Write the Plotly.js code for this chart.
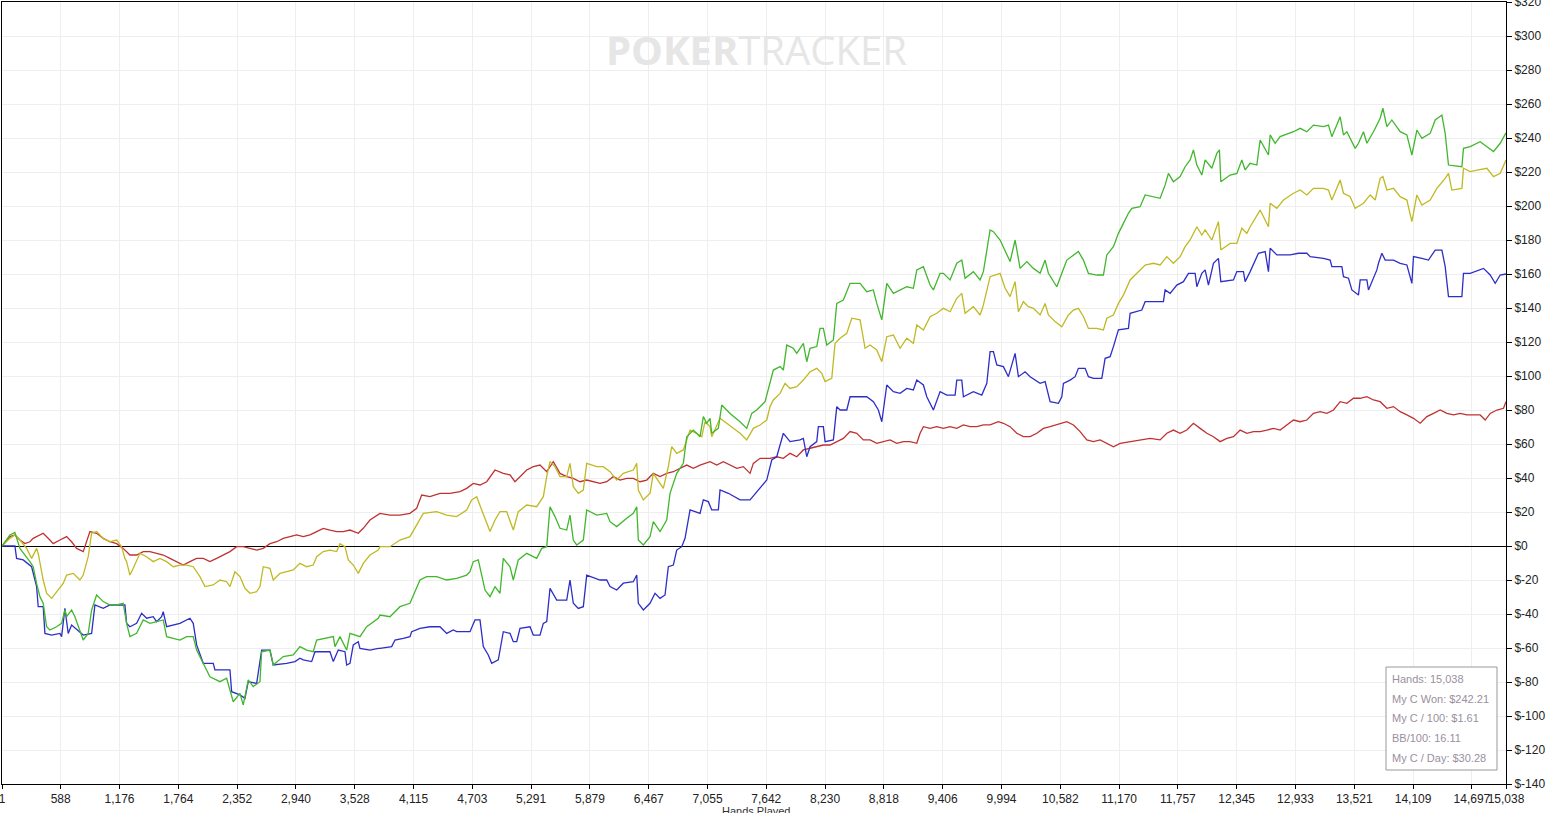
<!DOCTYPE html>
<html>
<head>
<meta charset="utf-8">
<script src="https://cdn.plot.ly/plotly-3.0.1.min.js"></script>
<style>html,body{margin:0;padding:0;background:#fff;}#chart{width:1561px;height:813px;}</style>
</head>
<body>
<div id="chart"></div>
<script>
// [hands, dollars]
const netWon = [[1,0],[80,6.5],[130,8],[180,-1.4],[280,-9.2],[313,-12.2],[347,-22],[380,-29.8],[413,-33.7],[447,-47.5],[480,-49.4],[547,-47.5],[597,-45.5],[630,-37.6],[647,-41.6],[697,-37.6],[730,-41.6],[780,-49.4],[813,-55.3],[863,-51.4],[897,-37.6],[947,-28.8],[1013,-32.7],[1080,-34.7],[1147,-34.7],[1213,-33.7],[1247,-45.5],[1280,-53.3],[1347,-51.4],[1413,-43.5],[1480,-45.5],[1547,-44.5],[1613,-43.5],[1647,-53.3],[1713,-54.3],[1780,-55.3],[1847,-53.3],[1913,-53.3],[1947,-61.2],[2013,-69],[2080,-76.9],[2180,-79.8],[2247,-77.8],[2280,-84.7],[2313,-91.6],[2380,-86.7],[2413,-93.5],[2463,-78.8],[2513,-82.7],[2580,-79.8],[2597,-62.2],[2680,-61.2],[2713,-70],[2813,-65],[2913,-64],[2980,-59.2],[3047,-61.2],[3113,-62.2],[3147,-55.3],[3313,-53.3],[3330,-59.2],[3380,-53.3],[3447,-61.2],[3480,-51.4],[3580,-53.3],[3647,-47.5],[3763,-42.5],
[3780,-40.6],[3880,-41.6],[3980,-35.7],[4080,-33.7],[4180,-20],[4247,-18],[4347,-18],[4447,-20],[4547,-19],[4647,-17.1],[4680,-15.1],[4713,-9.2],[4763,-8.2],[4797,-18],[4830,-25.9],[4880,-29.8],[4930,-23.9],[4980,-27.8],[5013,-7.3],[5080,-12.2],[5113,-20],[5163,-8.2],[5247,-4.3],[5347,-7.3],[5397,-1.4],[5447,-0.4],[5480,23.1],[5530,17.3],[5580,10.4],[5647,9.4],[5680,18.2],[5713,3.5],[5747,0.6],[5813,3.5],[5847,21.2],[5947,18.2],[6047,19.2],[6080,14.3],[6147,11.4],[6247,16.3],[6313,19.2],[6347,23.1],[6363,3.5],[6413,0.6],[6480,5.5],[6513,14.3],[6580,8.5],[6647,15.3],[6680,31],[6747,42.7],[6813,48.6],
[6847,64.3],[6913,68.2],[6980,64.3],[7013,76.1],[7047,72.2],[7080,75.1],[7097,66.3],[7163,69.2],[7197,82.9],[7280,78],[7380,73.1],[7447,69.2],[7497,78],[7547,80],[7630,84.9],[7663,91.8],[7713,103.5],[7780,105.5],[7813,103.5],[7847,118.2],[7913,116.3],[7947,113.3],[8013,119.2],[8047,108.4],[8080,116.3],[8147,117.3],[8180,128],[8213,128],[8247,118.2],[8313,121.2],[8347,142.7],[8413,144.7],[8480,154.5],[8580,154.5],[8647,149.6],[8713,150.6],[8747,142.7],[8797,133],[8847,154.5],[8913,148.6],[8980,150.6],[9047,152.5],[9113,151.6],[9147,162.4],[9213,164.3],[9280,153.5],[9313,150.6],[9380,160.4],[9413,160.4],[9480,156.5],[9547,166.3],[9597,168.2],[9630,157.5],[9713,161.4],[9780,156.5],[9813,161.4],[9880,185.9],[9913,184.9],[9980,180],[10030,174.1],[10080,167.3],[10130,180],[10180,163.3],[10247,167.3],[10313,163.3],[10380,160.4],
[10430,168.2],[10463,160.4],[10547,152.5],[10597,160.4],[10647,168.2],[10763,173.2],[10813,168.2],[10863,160.4],[10947,159.4],[11013,159.4],[11047,171.2],[11113,176.1],[11163,183.9],[11213,189.8],[11263,195.7],[11297,198.6],[11380,199.6],[11430,206.5],[11513,205.5],[11580,204.5],[11630,212.4],[11663,219.2],[11713,214.3],[11780,217.3],[11830,223.1],[11880,227.1],[11913,233],[11947,224.1],[11997,218.2],[12030,227.1],[12097,222.2],[12147,231],[12173,233],[12187,214.3],[12280,218.2],[12347,219.2],[12397,227.1],[12430,221.2],[12480,225.1],[12547,224.1],[12580,238.8],[12663,230],[12680,241.8],[12730,236.9],[12780,240.8],[12913,243.7],[12980,245.7],[13047,243.7],[13113,247.6],[13213,246.7],[13263,247.6],[13297,240.8],[13380,252.5],[13413,241.8],[13447,243.7],[13530,233.9],[13563,236.9],[13613,243.7],[13647,236.9],[13713,243.7],[13780,251.6],[13807,257.5],[13847,246.7],[13897,250.6],[13980,243.7],[14047,241.8],[14097,230],[14147,244.7],[14197,239.8],[14280,242.7],[14330,250.6],[14397,253.5],[14430,242.7],[14463,224.1],[14597,223.1],[14613,233.9],[14680,234.9],[14780,237.8],[14847,234.9],[14913,232],[14980,236.9],[15038,243]];

const allInEV = [[1,0],[80,4.5],[130,6.5],[180,3.5],[247,-1.4],[297,-7.3],[347,-1.4],[363,-4.3],[413,-20],[447,-27.8],[497,-30.8],[563,-25.9],[613,-22],[647,-17.1],[713,-16.1],[780,-20],[813,-17.1],[863,-6.3],[897,7.5],[947,8.5],[1013,4.5],[1080,2.5],[1147,3.5],[1197,-0.4],[1230,-7.3],[1247,-9.2],[1280,-17.1],[1313,-13.1],[1380,-4.3],[1447,-6.3],[1513,-9.2],[1580,-7.3],[1647,-9.2],[1713,-12.2],[1780,-11.2],[1847,-11.2],[1913,-12.2],[1980,-18],[2030,-23.9],[2113,-22.9],[2180,-20],[2247,-21],[2280,-23.9],[2330,-15.1],[2380,-18],[2430,-24.9],[2480,-27.8],[2547,-26.9],[2580,-23.9],[2613,-12.2],[2680,-13.1],[2713,-20],[2780,-16.1],[2847,-15.1],[2913,-14.1],[2980,-10.2],[3047,-12.2],[3113,-11.2],[3147,-6.3],[3213,-3.3],[3280,-2.4],[3347,-3.3],[3380,1.4],[3430,-0.4],[3463,-8.2],[3513,-11.2],[3563,-16.1],[3613,-10.2],[3680,-5.3],[3763,-2.4],
[3780,-0.4],[3880,-0.4],[3980,3.5],[4080,5.5],[4180,15.3],[4213,19.2],[4347,20.2],[4447,18.2],[4547,17.3],[4647,21.2],[4697,27.1],[4747,29],[4797,21.2],[4847,13.3],[4880,8.5],[4930,15.3],[4980,20.2],[5047,20.2],[5113,9.4],[5163,20.2],[5247,24.1],[5347,23.1],[5413,29],[5447,40.8],[5480,49.6],[5530,46.7],[5580,40.8],[5647,40.8],[5680,48.6],[5713,34.9],[5763,31],[5813,32.9],[5847,48.6],[5947,46.7],[6013,46.7],[6080,43.7],[6147,38.8],[6213,42.7],[6313,44.7],[6347,48.6],[6363,32.9],[6413,27.1],[6480,31],[6513,42.7],[6580,36.8],[6613,33.9],[6663,46.7],[6697,58.4],[6747,54.5],
[6813,56.5],[6880,68.2],[6947,66.3],[6997,64.3],[7030,73.1],[7080,70.2],[7097,64.3],[7180,75.1],[7247,72.2],[7313,69.2],[7380,66.3],[7447,62.4],[7513,69.2],[7580,71.2],[7647,74.1],[7680,82],[7713,85.9],[7780,89.8],[7830,95.7],[7880,92.7],[7947,93.7],[8013,97.6],[8080,102.5],[8147,104.5],[8197,101.6],[8230,96.7],[8297,98.6],[8330,119.2],[8380,122.2],[8447,125.1],[8497,134],[8580,133],[8630,116.3],[8680,118.2],[8747,115.3],[8797,108.4],[8847,123.1],[8913,124.1],[8980,116.3],[9047,122.2],[9113,119.2],[9147,130],[9213,127.1],[9280,134.9],[9347,136.9],[9413,139.8],[9480,137.8],[9547,145.7],[9597,148.6],[9630,136.9],[9713,140.8],[9780,135.9],[9813,141.8],[9880,158.4],[9980,160.4],[10030,151.6],[10080,146.7],[10130,155.5],[10163,137.8],[10213,143.7],[10263,140.8],[10313,139.8],[10380,135.9],
[10430,142.7],[10463,135.9],[10530,132],[10597,129],[10663,135.9],[10713,138.8],[10763,139.8],[10813,135],[10863,128],[10947,128],[11013,127.1],[11047,134],[11113,135.9],[11163,142.7],[11213,147.6],[11280,156.5],[11347,160.4],[11430,165.3],[11513,166.3],[11580,165.3],[11647,170.2],[11713,166.3],[11780,170.2],[11830,176.1],[11880,180],[11947,187.8],[11997,182.9],[12030,185.9],[12097,180],[12163,190.8],[12187,174.1],[12280,178],[12347,178],[12397,186.9],[12447,183.9],[12480,187.8],[12580,197.6],[12663,187.8],[12680,201.6],[12747,198.6],[12813,203.5],[12913,207.5],[12980,209.4],[13047,206.5],[13113,210.4],[13213,210.4],[13263,209.4],[13297,203.5],[13380,215.3],[13413,207.5],[13480,205.5],[13530,198.6],[13613,201.6],[13680,206.5],[13730,203.5],[13780,216.3],[13807,217.3],[13847,209.4],[13913,210.4],[13980,205.5],[14047,203.5],[14097,190.8],[14147,206.5],[14197,200.6],[14280,203.5],[14347,210.4],[14430,216.3],[14463,219.2],[14497,209.4],[14597,210.4],[14613,222.2],[14680,220.2],[14763,221.2],[14847,222.2],[14913,217.3],[14980,219.2],[15038,227]];

const showdownWon = [[1,0],[130,0],[147,-7.3],[213,-8.2],[297,-12.2],[347,-23.9],[363,-35.7],[413,-35.7],[430,-51.4],[497,-52.4],[580,-51.4],[597,-53.3],[630,-36.7],[663,-51.4],[697,-46.5],[797,-51.4],[813,-52.4],[897,-51.4],[930,-34.7],[1013,-36.7],[1080,-34.7],[1147,-34.7],[1230,-34.7],[1247,-45.5],[1280,-47.5],[1347,-45.5],[1397,-39.6],[1447,-42.5],[1513,-41.6],[1547,-44.5],[1597,-41.6],[1613,-38.6],[1647,-47.5],[1780,-45.5],[1880,-42.5],[1913,-45.5],[1947,-58.2],[2013,-69],[2113,-69],[2130,-72.9],[2280,-72.9],[2297,-85.7],[2380,-87.6],[2430,-89.6],[2463,-79.8],[2547,-80.8],[2597,-61.2],[2680,-61.2],[2713,-70],[2847,-69],[2930,-68],[2980,-66],[3013,-67],[3097,-68],[3130,-62.2],[3280,-62.2],[3313,-68],[3363,-61.2],[3430,-62.2],[3447,-70],[3480,-69],[3513,-58.2],[3563,-56.3],[3580,-60.2],[3680,-61.2],[3763,-60.2],
[3780,-60.2],[3897,-59.2],[3930,-55.3],[4013,-54.3],[4080,-53.3],[4097,-50.4],[4180,-48.4],[4280,-47.5],[4380,-47.5],[4447,-51.4],[4513,-49.4],[4547,-50.4],[4680,-50.4],[4730,-43.5],[4780,-43.5],[4813,-59.2],[4863,-64.1],[4897,-69],[4963,-67],[5013,-50.4],[5080,-51.4],[5113,-56.3],[5147,-56.3],[5180,-48.4],[5280,-47.5],[5313,-52.4],[5380,-52.4],[5413,-45.5],[5447,-44.5],[5480,-24.9],[5547,-31.8],[5647,-31.8],[5680,-20],[5713,-33.7],[5763,-36.7],[5813,-35.7],[5847,-17.1],[5980,-20],[6047,-20],[6080,-23.9],[6147,-25.9],[6213,-21.9],[6313,-21],[6347,-17.1],[6363,-33.7],[6413,-37.6],[6480,-33.7],[6530,-27.8],[6580,-30.8],[6630,-28.8],[6663,-12.2],[6713,-11.2],[6747,-2.4],[6797,-0.4],[6830,4.5],[6880,21.2],[6980,19.2],[7013,27.1],[7063,26.1],[7097,21.2],[7163,21.2],[7180,33],[7263,31],[7380,27.1],[7480,27.1],
[7647,38.8],[7697,50.6],[7747,52.5],[7813,66.3],[7880,61.4],[7980,62.4],[8013,63.3],[8047,52.5],[8080,58.4],[8147,61.4],[8163,70.2],[8213,70.2],[8230,61.4],[8313,62.4],[8347,82],[8380,80],[8447,80],[8480,87.8],[8647,87.8],[8713,84.9],[8763,80],[8797,73.1],[8847,94.7],[8913,90.8],[8980,89.8],[9047,92.7],[9113,91.8],[9147,97.6],[9213,94.7],[9247,87.8],[9313,80],[9380,90.8],[9447,88.8],[9530,88.8],[9547,97.6],[9597,97.6],[9613,87.8],[9713,90.8],[9797,88.8],[9847,95.7],[9880,114.3],[9913,114.3],[9947,106.5],[10013,105.5],[10063,99.6],[10130,113.3],[10163,99.6],[10230,102.5],[10280,99.6],[10380,95.7],
[10430,96.7],[10463,89.8],[10480,84.9],[10563,83.9],[10597,87.8],[10613,95.7],[10680,97.6],[10730,99.6],[10763,104.5],[10830,104.5],[10863,99.6],[10913,98.6],[10997,98.6],[11030,110.4],[11080,111.4],[11113,117.3],[11163,127.1],[11263,128],[11280,136.9],[11397,138.8],[11430,143.7],[11613,143.7],[11630,150.6],[11680,148.6],[11747,153.5],[11813,155.5],[11863,160.4],[11930,160.4],[11947,152.5],[11997,160.4],[12030,162.4],[12063,153.5],[12113,166.3],[12163,169.2],[12187,155.5],[12313,156.5],[12347,161.4],[12413,161.4],[12430,155.5],[12480,161.4],[12563,172.2],[12630,173.2],[12663,161.4],[12680,175.1],[12747,171.2],[12880,171.2],[12963,172.2],[13047,172.2],[13080,170.2],[13213,169.2],[13280,168.2],[13297,164.3],[13397,164.3],[13413,158.4],[13463,157.5],[13497,150.6],[13563,147.6],[13580,156.5],[13647,156.5],[13663,150.6],[13713,157.5],[13747,162.4],[13763,166.3],[13797,172.2],[13830,168.2],[13913,168.2],[13980,166.3],[14047,165.3],[14097,154.5],[14113,170.2],[14197,169.2],[14263,168.2],[14330,174.1],[14397,174.1],[14430,164.3],[14463,146.7],[14597,146.7],[14613,160.4],[14680,160.4],[14813,163.3],[14880,159.4],[14930,154.5],[14980,159.4],[15038,160]];

const nonShowdownWon = [[1,0],[80,5.5],[130,6.5],[180,3.5],[230,1.4],[280,2.5],[313,4.5],[347,5.5],[413,7.5],[480,3.5],[513,1.4],[580,3.5],[647,5.5],[697,2.5],[747,-1.4],[813,-3.3],[880,8.5],[947,7.5],[1013,4.5],[1080,2.5],[1147,1.4],[1213,-1.4],[1280,-5.3],[1347,-5.3],[1413,-3.3],[1480,-3.3],[1547,-4.3],[1613,-5.3],[1680,-7.3],[1747,-9.2],[1813,-11.2],[1880,-9.2],[1947,-7.3],[2013,-7.3],[2080,-9.2],[2147,-7.3],[2213,-5.3],[2280,-3.3],[2347,-0.4],[2413,-0.4],[2480,-1.4],[2547,-2.4],[2613,-1.4],[2680,1.4],[2747,2.5],[2813,4.5],[2880,5.5],[2947,6.5],[3013,5.5],[3080,6.5],[3147,8.5],[3213,10.4],[3280,9.4],[3347,8.5],[3413,8.5],[3480,9.4],[3563,7.5],[3613,10.4],[3680,15.3],[3763,18.2],
[3780,19.2],[3880,18.2],[3980,18.2],[4080,19.2],[4147,22.2],[4197,30],[4280,29],[4380,31],[4480,31],[4580,32],[4647,33.9],[4713,36.8],[4780,35.9],[4847,37.8],[4930,44.7],[5013,42.7],[5080,41.8],[5130,37.8],[5180,40.8],[5247,44.7],[5313,46.7],[5380,47.6],[5447,43.7],[5513,49.6],[5580,42.7],[5647,40.8],[5713,39.8],[5780,37.8],[5847,38.8],[5913,37.8],[5980,36.8],[6047,37.8],[6113,40.8],[6180,38.8],[6247,39.8],[6313,39.8],[6380,37.8],[6447,38.8],[6513,42.7],[6580,40.8],[6647,42.7],[6713,43.7],[6780,45.7],[6847,47.6],[6913,45.7],[6980,47.6],[7080,49.6],[7147,47.6],[7213,49.6],[7280,47.6],[7347,45.7],[7413,46.7],[7480,42.7],
[7513,48.6],[7580,51.6],[7680,51.6],[7747,52.5],[7813,51.6],[7880,54.5],[7947,52.5],[8013,56.5],[8080,57.5],[8147,58.4],[8213,59.4],[8280,59.4],[8347,61.4],[8413,63.3],[8480,67.3],[8547,66.3],[8613,62.4],[8680,62.4],[8747,60.4],[8813,61.4],[8880,62.4],[8947,60.4],[9013,61.4],[9080,61.4],[9147,60.4],[9180,66.3],[9213,70.2],[9280,69.2],[9347,70.2],[9413,69.2],[9480,70.2],[9547,69.2],[9613,71.2],[9680,70.2],[9747,70.2],[9813,71.2],[9880,71.2],[9963,73.1],[10013,72.2],[10080,70.2],[10147,66.3],[10213,64.3],[10280,64.3],[10347,66.3],
[10413,69.2],[10480,70.2],[10547,71.2],[10647,73.1],[10713,71.2],[10780,67.3],[10847,62.4],[10913,61.4],[10980,62.4],[11047,60.4],[11113,58.4],[11180,60.4],[11280,61.4],[11380,62.4],[11480,63.3],[11580,62.4],[11647,66.3],[11713,68.2],[11780,66.3],[11847,68.2],[11913,72.2],[11980,69.2],[12047,66.3],[12113,64.3],[12180,61.4],[12247,63.3],[12313,64.3],[12380,68.2],[12447,66.3],[12513,67.3],[12580,67.3],[12647,68.2],[12713,69.2],[12780,68.2],[12847,71.2],[12913,74.1],[12980,73.1],[13047,74.1],[13113,78],[13180,79],[13247,78],[13313,80],[13380,84.9],[13447,83.9],[13513,86.9],[13580,86.9],[13647,87.8],[13713,85.9],[13780,84.9],[13847,81],[13913,82],[13980,79],[14047,77.1],[14113,75.1],[14180,72.2],[14247,76.1],[14313,78],[14380,80],[14447,78],[14513,77.1],[14580,78],[14647,77.1],[14713,77.1],[14780,77.1],[14830,74.1],[14880,78],[14947,80],[15013,81],[15038,84.9]];

const xTickVals = [1,588,1176,1764,2352,2940,3528,4115,4703,5291,5879,6467,7055,7642,8230,8818,9406,9994,10582,11170,11757,12345,12933,13521,14109,14697,15038];
const yTickVals = [-140,-120,-100,-80,-60,-40,-20,0,20,40,60,80,100,120,140,160,180,200,220,240,260,280,300,320];
const statLines = ["Hands: 15,038","My C Won: $242.21","My C / 100: $1.61","BB/100: 16.11","My C / Day: $30.28"];

function trace(pairs, color, name){
  return {type:'scatter', mode:'lines', name:name,
    x: pairs.map(p=>p[0]), y: pairs.map(p=>p[1]),
    line:{color:color, width:1.3}, hoverinfo:'skip'};
}

const data = [
  trace(nonShowdownWon,'rgb(192,50,50)','Non-showdown'),
  trace(allInEV,'rgb(192,185,35)','All-in EV'),
  trace(showdownWon,'rgb(45,45,200)','Showdown'),
  trace(netWon,'rgb(65,183,45)','Net Won')
];

const W=1561,H=813, L=2, R=55, T=2, B=29;
const pw=W-L-R, ph=H-T-B;
function px2x(px){return (px-L)/pw;}
function py2y(py){return (H-B-py)/ph;}

const annotations = [
  {xref:'paper',yref:'paper',x:px2x(756),y:py2y(50),xanchor:'center',yanchor:'middle',showarrow:false,
   text:'<b>POKER</b>TRACKER',font:{family:'Open Sans, Liberation Sans, sans-serif',size:40,color:'#e6e6e6'}},
  {xref:'paper',yref:'paper',x:px2x(756),y:py2y(811),xanchor:'center',yanchor:'middle',showarrow:false,
   text:'Hands Played',font:{family:'Liberation Sans, Arial, sans-serif',size:11,color:'#333'}}
];
const lineY=[679,699,718,738,758];
statLines.forEach((t,i)=>{
  annotations.push({xref:'paper',yref:'paper',x:px2x(1390),y:py2y(lineY[i]),xanchor:'left',yanchor:'middle',
    showarrow:false,text:t,font:{family:'Liberation Sans, Arial, sans-serif',size:11,color:'#9a8f9e'}});
});

const layout = {
  width:W, height:H, margin:{l:L,r:R,t:T,b:B,pad:0},
  paper_bgcolor:'#fff', plot_bgcolor:'#fff', showlegend:false, hovermode:false,
  xaxis:{range:[1,15038], tickmode:'array', tickvals:xTickVals,
    ticktext:xTickVals.map(v=>v.toLocaleString('en-US')), tickangle:0,
    ticklabeloverflow:'allow',
    showgrid:true, gridcolor:'#eeeeee', gridwidth:1, zeroline:false,
    showline:true, linecolor:'#000', linewidth:1, mirror:true,
    ticks:'outside', ticklen:4, tickcolor:'#000',
    tickfont:{family:'Liberation Sans, Arial, sans-serif',size:12,color:'#222'}},
  yaxis:{range:[-140,320], side:'right', tickmode:'array', tickvals:yTickVals,
    ticktext:yTickVals.map(v=>'$'+v), ticklabeloverflow:'allow',
    showgrid:true, gridcolor:'#eeeeee', gridwidth:1,
    zeroline:true, zerolinecolor:'#000', zerolinewidth:1,
    showline:true, linecolor:'#000', linewidth:1, mirror:true,
    ticks:'outside', ticklen:5, tickcolor:'#000',
    tickfont:{family:'Liberation Sans, Arial, sans-serif',size:12,color:'#222'}},
  shapes:[{type:'rect',xref:'paper',yref:'paper',x0:px2x(1386),x1:px2x(1497),y0:py2y(770),y1:py2y(667),
    line:{color:'#999',width:1},fillcolor:'#fff',layer:'above'}],
  annotations:annotations
};

Plotly.newPlot('chart', data, layout, {displayModeBar:false, staticPlot:true});
</script>
</body>
</html>
